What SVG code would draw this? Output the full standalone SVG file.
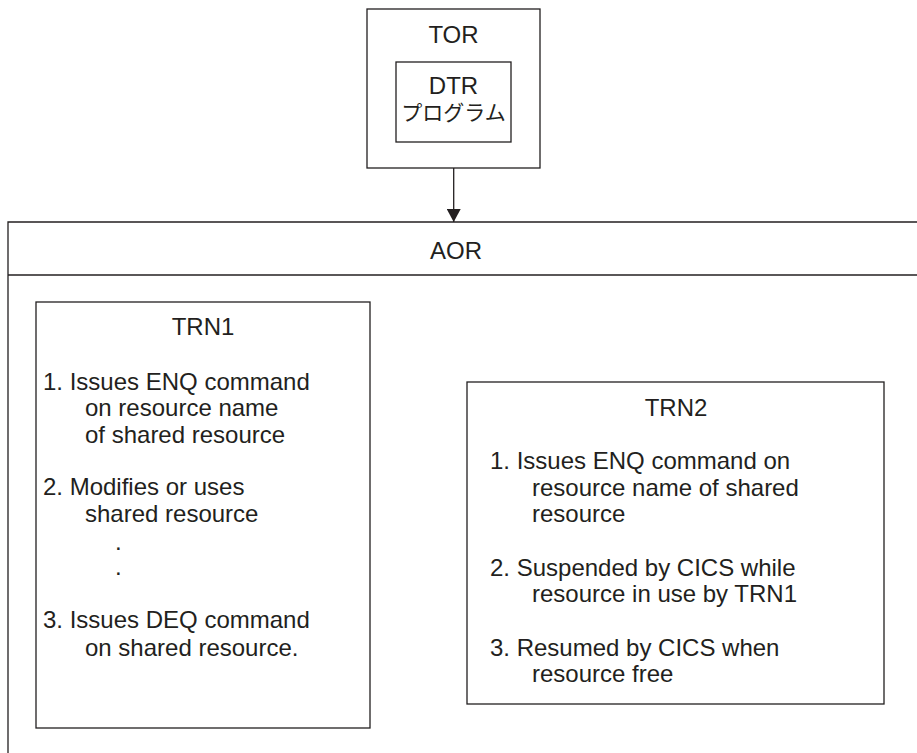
<svg xmlns="http://www.w3.org/2000/svg" width="917" height="753" viewBox="0 0 917 753">
<style>
.box{fill:none;stroke:#231f20;stroke-width:1.3}
.ln{stroke:#231f20;stroke-width:1.3;fill:none}
.t{font-family:"Liberation Sans",Arial,sans-serif;font-size:24px;fill:#231f20}
.c{text-anchor:middle}
.j{font-family:"Liberation Sans","Noto Sans CJK JP",sans-serif;font-size:21px;fill:#231f20}
</style>
<defs>
<marker id="ah" markerWidth="14" markerHeight="14" refX="13" refY="7" orient="auto" markerUnits="userSpaceOnUse">
<path d="M0,0 L13,7 L0,14 Z" fill="#231f20"/>
</marker>
</defs>
<rect width="917" height="753" fill="#fff"/>
<g id="TOR">
<rect class="box" x="367" y="9" width="173" height="159"/>
<text class="t c" x="453.5" y="43">TOR</text>
</g>
<g id="DTR">
<rect class="box" x="396" y="62" width="115" height="80"/>
<text class="t c" x="453.5" y="94">DTR</text>
<text class="j c" x="453.5" y="120">プログラム</text>
</g>
<g id="AOR">
<path class="ln" d="M917,222 H8 V753"/>
<line class="ln" x1="8" y1="275" x2="917" y2="275"/>
<text class="t c" x="456" y="259">AOR</text>
</g>
<g id="TRN1">
<rect class="box" x="36" y="302" width="334" height="426"/>
<text class="t c" x="203" y="335">TRN1</text>
<text class="t" x="43" y="390">1. Issues ENQ command</text>
<text class="t" x="85" y="416">on resource name</text>
<text class="t" x="85" y="443">of shared resource</text>
<text class="t" x="43" y="495">2. Modifies or uses</text>
<text class="t" x="85" y="522">shared resource</text>
<text class="t" x="115" y="550">.</text>
<text class="t" x="115" y="575">.</text>
<text class="t" x="43" y="628">3. Issues DEQ command</text>
<text class="t" x="85" y="656">on shared resource.</text>
</g>
<g id="TRN2">
<rect class="box" x="467" y="382" width="417" height="322"/>
<text class="t c" x="676" y="416">TRN2</text>
<text class="t" x="490" y="469">1. Issues ENQ command on</text>
<text class="t" x="532" y="496">resource name of shared</text>
<text class="t" x="532" y="522">resource</text>
<text class="t" x="490" y="576">2. Suspended by CICS while</text>
<text class="t" x="532" y="602">resource in use by TRN1</text>
<text class="t" x="490" y="656">3. Resumed by CICS when</text>
<text class="t" x="532" y="682">resource free</text>
</g>
<g id="connectors">
<line class="ln" x1="453.7" y1="168" x2="453.7" y2="222" marker-end="url(#ah)"/>
</g>
</svg>
